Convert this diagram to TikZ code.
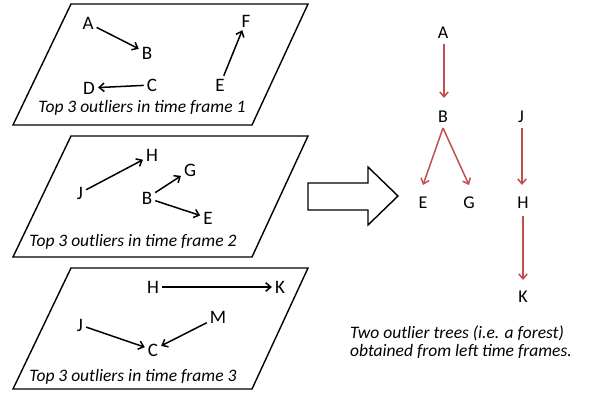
\documentclass[tikz,border=0pt]{standalone}
\usepackage{fontspec}
\setmainfont{Carlito}
\usetikzlibrary{arrows.meta}
\definecolor{treered}{HTML}{C0504D}
\tikzset{
  frame/.style={draw=black, line width=1.4pt, line join=miter},
  lbl/.style={inner sep=2pt, font=\fontsize{19}{19}\selectfont},
  tlbl/.style={inner sep=2pt, font=\fontsize{18}{18}\selectfont},
  captext/.style={inner sep=0pt, font=\fontsize{17.5}{17.5}\selectfont\itshape},
  link/.style={draw=black, line width=1.5pt, -{Straight Barb[length=5pt,width=8.5pt,line width=1.5pt]}, shorten >=1pt, shorten <=1pt},
  tlink/.style={draw=treered, line width=1.5pt, -{Straight Barb[length=5pt,width=8.5pt,line width=1.5pt]}},
  bigarrow/.style={draw=black, line width=1.4pt, fill=white, line join=miter}
}
\begin{document}
\begin{tikzpicture}[x=1pt, y=-1pt]
\useasboundingbox (0,0) rectangle (595,396);

% three time-frame planes
\foreach \t in {4,136,268} {
  \draw[frame] (71,\t) -- (308,\t) -- (252,\t+121) -- (13,\t+121) -- cycle;
}

% time frame 1
\node[lbl] (a1) at (88,23) {A};
\node[lbl] (b1) at (147,53) {B};
\node[lbl] (c1) at (152,85) {C};
\node[lbl] (d1) at (89,88) {D};
\node[lbl] (e1) at (220,85) {E};
\node[lbl] (f1) at (246,21) {F};
\draw[link] (a1) -- (b1);
\draw[link] (c1) -- (d1);
\draw[link] (e1) -- (f1);
\node[captext] (cap1) at (142,108) {Top 3 outliers in time frame 1};

% time frame 2
\node[lbl] (h2) at (152,155) {H};
\node[lbl] (j2) at (80,193) {J};
\node[lbl] (g2) at (190,170) {G};
\node[lbl] (b2) at (147,198) {B};
\node[lbl] (e2) at (208,218) {E};
\draw[link] (j2) -- (h2);
\draw[link] (b2) -- (g2);
\draw[link] (b2) -- (e2);
\node[captext] (cap2) at (133,242) {Top 3 outliers in time frame 2};

% time frame 3
\node[lbl] (h3) at (153,287) {H};
\node[lbl] (k3) at (280,287) {K};
\node[lbl] (j3) at (80,325) {J};
\node[lbl] (m3) at (218,317) {M};
\node[lbl] (c3) at (153,350) {C};
\draw[link] (h3) -- (k3);
\draw[link] (j3) -- (c3);
\draw[link] (m3) -- (c3);
\node[captext] (cap3) at (133,377) {Top 3 outliers in time frame 3};

% block arrow
\draw[bigarrow] (308,183) -- (368,183) -- (368,167) -- (398,196) -- (368,225) -- (368,210) -- (308,210) -- cycle;

% outlier forest
\node[tlbl] (ta) at (443,33) {A};
\node[tlbl] (tb) at (443,117) {B};
\node[tlbl] (te) at (423,203) {E};
\node[tlbl] (tg) at (469,203) {G};
\node[tlbl] (tj) at (521,117) {J};
\node[tlbl] (th) at (523,203) {H};
\node[tlbl] (tk) at (523,297) {K};
\draw[tlink] (ta.south) ++(1,3) coordinate (s1) -- (s1 |- 0,98);
\draw[tlink] (tb.south) ++(0,3) coordinate (s2) -- (423,185);
\draw[tlink] (s2) -- (469,185);
\draw[tlink] (tj.south) ++(1,3) coordinate (s3) -- (s3 |- 0,185);
\draw[tlink] (th.south) ++(0,5) coordinate (s4) -- (s4 |- 0,280);

\node[captext, align=left, anchor=north west] (fcap) at (350,326) {Two outlier trees (i.e. a forest)\\obtained from left time frames.};
\end{tikzpicture}
\end{document}
